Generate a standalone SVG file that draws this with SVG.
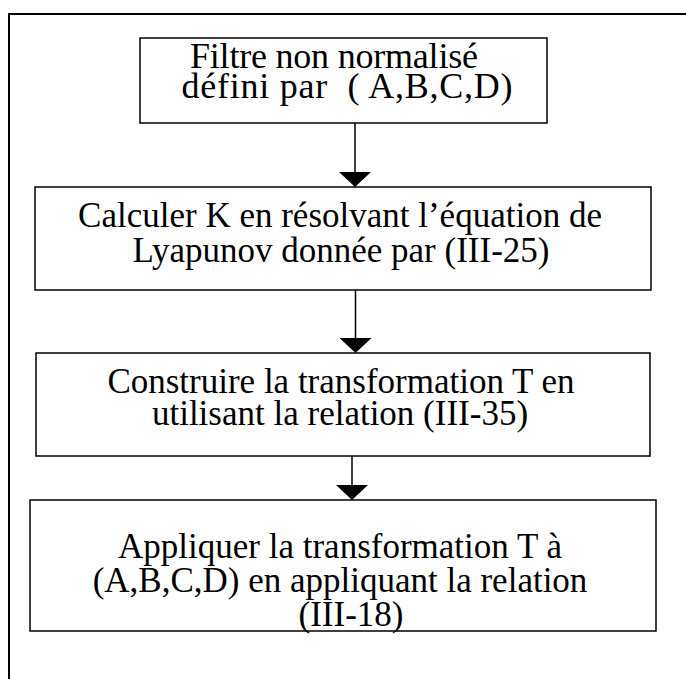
<svg xmlns="http://www.w3.org/2000/svg" width="686" height="679" viewBox="0 0 686 679">
  <style>
    .frame { fill: none; stroke: #000; stroke-width: 2; }
    .box { fill: #fff; stroke: #000; stroke-width: 1.5; }
    .lbl { font-family: "Liberation Serif", "Times New Roman", serif; font-size: 35px; fill: #000; text-anchor: middle; }
    .lbl1 { font-size: 36px; }
    .wire { stroke: #000; stroke-width: 1.5; fill: none; }
    .head { fill: #000; }
  </style>

  <rect width="686" height="679" fill="#fff"/>
  <!-- enclosing frame, running off the right and bottom edges -->
  <rect class="frame" x="9" y="14" width="700" height="700"/>

  <g id="node-filtre">
    <rect class="box" x="140" y="38" width="407" height="85"/>
    <text class="lbl lbl1" x="334" y="68" textLength="288" lengthAdjust="spacing">Filtre non normalisé</text>
    <text class="lbl lbl1" x="347" y="98" textLength="331" lengthAdjust="spacing" xml:space="preserve">défini par  ( A,B,C,D)</text>
  </g>

  <g id="node-lyapunov">
    <rect class="box" x="35" y="187" width="616" height="103"/>
    <text class="lbl" x="340" y="227">Calculer K en résolvant l’équation de</text>
    <text class="lbl" x="341" y="262">Lyapunov donnée par (III-25)</text>
  </g>

  <g id="node-transformation">
    <rect class="box" x="36" y="353" width="614" height="103"/>
    <text class="lbl" x="341" y="393">Construire la transformation T en</text>
    <text class="lbl" x="340" y="425">utilisant la relation (III-35)</text>
  </g>

  <g id="node-appliquer">
    <rect class="box" x="30" y="500" width="626" height="131"/>
    <text class="lbl" x="340" y="558">Appliquer la transformation T à</text>
    <text class="lbl" x="340" y="592">(A,B,C,D) en appliquant la relation</text>
    <text class="lbl" x="351" y="626">(III-18)</text>
  </g>

  <g id="connectors">
    <line class="wire" x1="355" y1="123" x2="355" y2="174"/>
    <polygon class="head" points="339,172 371,172 355,187"/>
    <line class="wire" x1="355.5" y1="290" x2="355.5" y2="340"/>
    <polygon class="head" points="339.5,338 371.5,338 355.5,353"/>
    <line class="wire" x1="352" y1="456" x2="352" y2="487"/>
    <polygon class="head" points="336,485 368,485 352,500"/>
  </g>
</svg>
